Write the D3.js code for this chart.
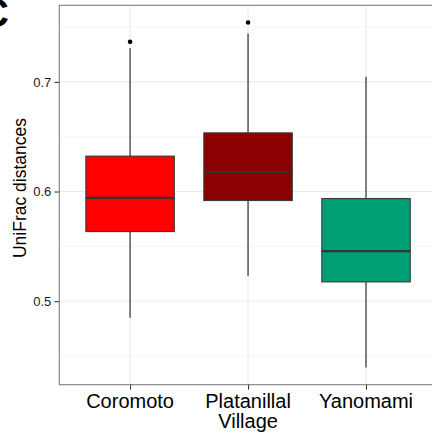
<!DOCTYPE html>
<html>
<head>
<meta charset="utf-8">
<script src="https://cdn.jsdelivr.net/npm/d3@7"></script>
<style>
  body { margin: 0; background: #fff; }
  text { font-family: "Liberation Sans", Arial, sans-serif; }
</style>
</head>
<body>
<div id="my_dataviz"></div>
<script>
// data
var categories = ["Coromoto", "Platanillal Village", "Yanomami"]
var whiskerLow = [0.485, 0.523, 0.4396]
var q1 = [0.5635, 0.5918, 0.5176]
var median = [0.5943, 0.6176, 0.5456]
var q3 = [0.6323, 0.6535, 0.5936]
var whiskerHigh = [0.731, 0.7441, 0.7046]
var outliers = [[0.7365], [0.7541], []]
var fills = ["#FF0000", "#8B0000", "#009E73"]
var majorTicks = [0.5, 0.6, 0.7]
var minorTicks = [0.45, 0.55, 0.65, 0.75]

var width = 432,
    height = 437

// panel box (right side runs past the edge of the picture)
var pLeft = 59.3, pTop = 5.3, pRight = 436.8, pBottom = 384.7

var svg = d3.select("#my_dataviz")
  .append("svg")
    .attr("width", width)
    .attr("height", height)

// y range: data span expanded by 5% each side, like ggplot
var lo = d3.min(whiskerLow), hi = d3.max(outliers.flat().concat(whiskerHigh))
var pad = (hi - lo) * 0.05
var y = d3.scaleLinear()
  .domain([lo - pad, hi + pad])
  .range([pBottom, pTop])

var x = d3.scalePoint()
  .domain(categories)
  .range([pLeft, pRight])
  .padding(0.6)

var boxW = x.step() * 0.75

// grid
svg.append("g").selectAll("line")
  .data(minorTicks)
  .enter().append("line")
    .attr("x1", pLeft).attr("x2", pRight)
    .attr("y1", function(d) { return y(d) }).attr("y2", function(d) { return y(d) })
    .attr("stroke", "#F5F5F5").attr("stroke-width", 1)

svg.append("g").selectAll("line")
  .data(majorTicks)
  .enter().append("line")
    .attr("x1", pLeft).attr("x2", pRight)
    .attr("y1", function(d) { return y(d) }).attr("y2", function(d) { return y(d) })
    .attr("stroke", "#EBEBEB").attr("stroke-width", 1.1)

svg.append("g").selectAll("line")
  .data(categories)
  .enter().append("line")
    .attr("x1", function(d) { return x(d) }).attr("x2", function(d) { return x(d) })
    .attr("y1", pTop).attr("y2", pBottom)
    .attr("stroke", "#EBEBEB").attr("stroke-width", 1.1)

// boxes
var boxes = svg.append("g").selectAll("g")
  .data(categories)
  .enter().append("g")

boxes.append("line")
  .attr("x1", function(d) { return x(d) }).attr("x2", function(d) { return x(d) })
  .attr("y1", function(d, i) { return y(whiskerHigh[i]) })
  .attr("y2", function(d, i) { return y(whiskerLow[i]) })
  .attr("stroke", "#4d4d4d").attr("stroke-width", 1.4)

boxes.append("rect")
  .attr("x", function(d) { return x(d) - boxW / 2 })
  .attr("width", boxW)
  .attr("y", function(d, i) { return y(q3[i]) })
  .attr("height", function(d, i) { return y(q1[i]) - y(q3[i]) })
  .attr("fill", function(d, i) { return fills[i] })
  .attr("stroke", "#3a3a3a").attr("stroke-width", 1.1)

boxes.append("line")
  .attr("x1", function(d) { return x(d) - boxW / 2 }).attr("x2", function(d) { return x(d) + boxW / 2 })
  .attr("y1", function(d, i) { return y(median[i]) })
  .attr("y2", function(d, i) { return y(median[i]) })
  .attr("stroke", "#333").attr("stroke-width", 2.2)

boxes.selectAll("circle")
  .data(function(d, i) { return outliers[i].map(function(v) { return {cat: d, v: v} }) })
  .enter().append("circle")
    .attr("cx", function(d) { return x(d.cat) })
    .attr("cy", function(d) { return y(d.v) })
    .attr("r", 2.3)
    .attr("fill", "#000")

// panel border
svg.append("rect")
  .attr("x", pLeft).attr("y", pTop)
  .attr("width", pRight - pLeft).attr("height", pBottom - pTop)
  .attr("fill", "none").attr("stroke", "#7F7F7F").attr("stroke-width", 1.1)

// axes
var yAxis = svg.append("g")
  .attr("transform", "translate(" + pLeft + ",0)")
  .call(d3.axisLeft(y).tickValues(majorTicks).tickFormat(d3.format(".1f")).tickSizeOuter(0).tickSize(5).tickPadding(3))
yAxis.select(".domain").remove()
yAxis.selectAll("line").attr("stroke", "#333")
yAxis.selectAll("text").attr("font-size", 13).attr("fill", "#1a1a1a")
  .attr("font-family", "Liberation Sans, Arial, sans-serif")

var xAxis = svg.append("g")
  .attr("transform", "translate(0," + pBottom + ")")
  .call(d3.axisBottom(x).tickSizeOuter(0).tickSize(5).tickFormat(""))
xAxis.select(".domain").remove()
xAxis.selectAll("line").attr("stroke", "#333")

// category labels, wrapped on spaces
svg.append("g").selectAll("text")
  .data(categories)
  .enter().append("text")
    .attr("text-anchor", "middle")
    .attr("font-size", 20)
    .attr("fill", "#000")
    .each(function(d) {
      var words = d.split(" ")
      var t = d3.select(this)
      words.forEach(function(w, j) {
        t.append("tspan")
          .attr("x", x(d))
          .attr("y", 407.5 + j * 20)
          .text(w)
      })
    })

// y title
svg.append("text")
  .attr("transform", "translate(26,188) rotate(-90)")
  .attr("text-anchor", "middle")
  .attr("font-size", 17.5)
  .attr("fill", "#000")
  .text("UniFrac distances")

// panel letter, cut off at the left edge
svg.append("text")
  .attr("x", -20)
  .attr("y", 27)
  .attr("font-size", 40)
  .attr("font-weight", "bold")
  .attr("fill", "#000")
  .text("C")
</script>
</body>
</html>
